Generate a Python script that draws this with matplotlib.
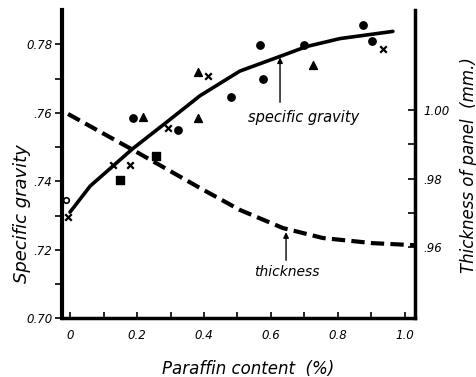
import matplotlib
matplotlib.use("Agg")
import matplotlib.pyplot as plt
import numpy as np

plt.rcParams['font.family'] = 'DejaVu Sans'
plt.rcParams['font.style'] = 'italic'

# specific gravity curve (left axis)
sg_x = [0.0, 0.06, 0.188, 0.29, 0.388, 0.507, 0.627, 0.707, 0.806, 0.964]
sg_y = [0.731, 0.7386, 0.7496, 0.7574, 0.765, 0.7722, 0.7765, 0.7794, 0.7817, 0.7838]

# panel thickness curve (right axis)
th_x = [-0.006, 0.188, 0.388, 0.507, 0.636, 0.755, 0.904, 1.03]
th_y = [0.9989, 0.9884, 0.9773, 0.9709, 0.9656, 0.9627, 0.9612, 0.9606]

# measured specific gravity points, by marker
circ_x = [0.188, 0.322, 0.481, 0.567, 0.576, 0.699, 0.875, 0.901]
circ_y = [0.7584, 0.7549, 0.7646, 0.7798, 0.7698, 0.7798, 0.7856, 0.7809]
tri_x = [0.218, 0.382, 0.382, 0.725]
tri_y = [0.7587, 0.7719, 0.7584, 0.7739]
cross_x = [0.412, 0.293, 0.128, 0.179, 0.934, -0.006]
cross_y = [0.7707, 0.7555, 0.7447, 0.7447, 0.7786, 0.7295]
sq_x = [0.257, 0.149]
sq_y = [0.7473, 0.7403]
open_x = [-0.012]
open_y = [0.7345]

left_ticks = [0.70, 0.72, 0.74, 0.76, 0.78]
left_labels = ['0.70', '.72', '.74', '.76', '0.78']
right_ticks = [0.96, 0.98, 1.00]
right_labels = ['.96', '.98', '1.00']
x_ticks = [0, 0.2, 0.4, 0.6, 0.8, 1.0]
x_labels = ['0', '0.2', '0.4', '0.6', '0.8', '1.0']

fig = plt.figure(figsize=(4.77, 3.77), dpi=100)
ax = fig.add_axes([0.13, 0.156, 0.74, 0.817])
ax2 = ax.twinx()

ax.plot(sg_x, sg_y, color='black', lw=2.6, solid_capstyle='round')
ax2.plot(th_x, th_y, color='black', lw=3, dashes=(3.2, 1.5))

ax.scatter(circ_x, circ_y, marker='o', s=28, color='black', zorder=3)
ax.scatter(tri_x, tri_y, marker='^', s=32, color='black', zorder=3)
ax.scatter(cross_x, cross_y, marker='x', s=22, color='black', linewidths=1.6, zorder=3)
ax.scatter(sq_x, sq_y, marker='s', s=26, color='black', zorder=3)
ax.scatter(open_x, open_y, marker='o', s=16, facecolor='white', edgecolor='black',
           linewidths=1.2, zorder=3)

ax.set_xlim(-0.024, 1.03)
ax.set_ylim(0.70, 0.79)
ax2.set_ylim(0.9393, 1.0292)

ax.set_xticks(np.arange(0, 1.01, 0.1), minor=True)
ax.set_xticks(x_ticks)
ax.set_xticklabels(x_labels, fontsize=8.5)
ax.set_yticks(np.arange(0.70, 0.785, 0.01), minor=True)
ax.set_yticks(left_ticks)
ax.set_yticklabels(left_labels, fontsize=8.5)
ax2.set_yticks(np.arange(0.96, 1.005, 0.01), minor=True)
ax2.set_yticks(right_ticks)
ax2.set_yticklabels(right_labels, fontsize=8.5)

ax.tick_params(axis='x', which='both', direction='in', length=4, width=1.2, pad=8)
ax.tick_params(axis='y', which='both', direction='out', length=5, width=1.2, pad=2)
ax2.tick_params(axis='y', which='both', direction='in', length=5, width=1.2, pad=6)

for a in (ax, ax2):
    a.spines['top'].set_visible(False)
ax.spines['left'].set_linewidth(3)
ax.spines['bottom'].set_linewidth(2.5)
ax.spines['right'].set_visible(False)
ax2.spines['left'].set_visible(False)
ax2.spines['bottom'].set_visible(False)
ax2.spines['right'].set_linewidth(2.5)

ax.set_xlabel('Paraffin content  (%)', fontsize=12)
ax.xaxis.set_label_coords(0.527, -0.135)
ax.set_ylabel('Specific gravity', fontsize=13)
ax.yaxis.set_label_coords(-0.088, 0.34)
ax2.set_ylabel('Thickness of panel  (mm.)', fontsize=12)
ax2.yaxis.set_label_coords(1.127, 0.497)

# labels with vertical pointer arrows
ax.text(0.696, 0.7587, 'specific gravity', ha='center', va='center', fontsize=10.5)
ax.annotate('', xy=(0.627, 0.7762), xytext=(0.627, 0.7631),
            arrowprops=dict(arrowstyle='-|>', color='black', lw=1.0,
                            shrinkA=0, shrinkB=0, mutation_scale=8))
ax2.text(0.647, 0.9527, 'thickness', ha='center', va='center', fontsize=10)
ax2.annotate('', xy=(0.645, 0.9644), xytext=(0.645, 0.9562),
             arrowprops=dict(arrowstyle='-|>', color='black', lw=1.0,
                             shrinkA=0, shrinkB=0, mutation_scale=8))

fig.savefig('out.png', dpi=100)
